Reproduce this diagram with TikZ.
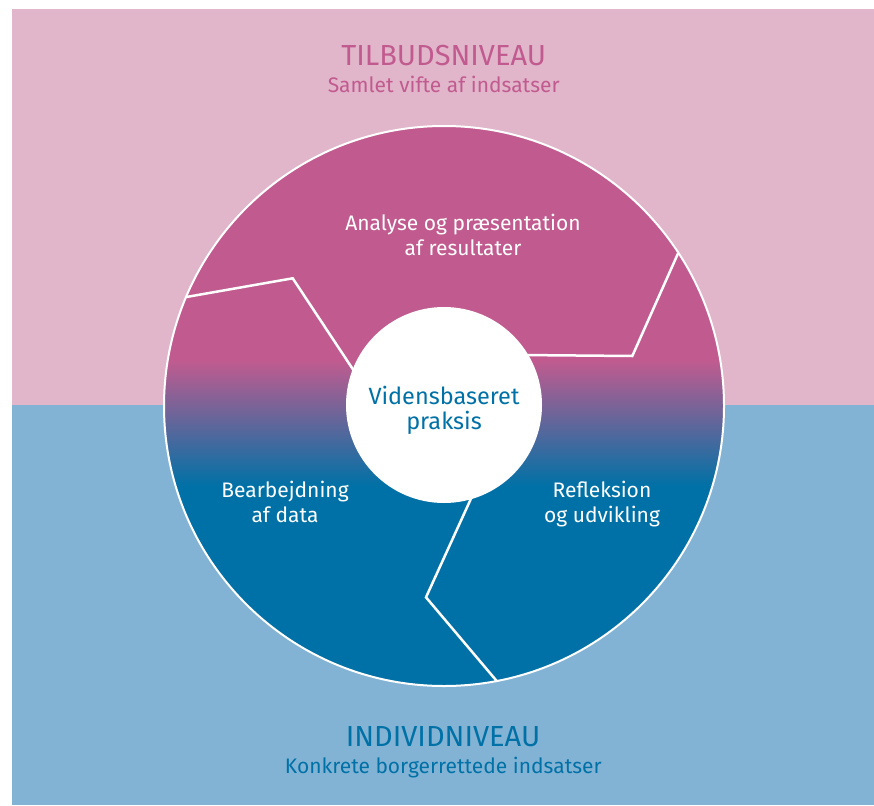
\documentclass[tikz,border=0pt]{standalone}
\usepackage{fontspec}
\setmainfont{Fira Sans}
\usetikzlibrary{calc}

\definecolor{levelpink}{HTML}{E1B5CA}
\definecolor{levelblue}{HTML}{82B3D5}
\definecolor{cyclepink}{HTML}{C15B8F}
\definecolor{cycleblue}{HTML}{0071A6}

\tikzset{
  divider/.style={draw=white, line width=2.5pt, line join=miter},
  steplabel/.style={text=white, align=center, inner sep=0pt,
    font=\fontsize{21}{25}\selectfont},
  corelabel/.style={text=cycleblue, align=center, inner sep=0pt,
    font=\fontsize{23.5}{25}\selectfont},
  leveltitle/.style={anchor=base, inner sep=0pt, font=\fontsize{29}{34}\selectfont},
  levelsub/.style={anchor=base, inner sep=0pt, font=\fontsize{21}{25}\selectfont}
}

\begin{document}
\begin{tikzpicture}[x=1pt, y=-1pt]
    \useasboundingbox (0,0) rectangle (874,805);

    % the two levels
    \fill[levelpink] (12,9) rectangle (874,405);
    \fill[levelblue] (12,405) rectangle (874,805);

    \coordinate (hub) at (444,406);

    \coordinate (d1out) at (175,299);
    \coordinate (d1mid) at (292.7,278.3);
    \coordinate (d1in) at (356,374);
    \coordinate (d2out) at (684,240);
    \coordinate (d2mid) at (632.3,356);
    \coordinate (d2in) at (520,355);
    \coordinate (d3out) at (506,692);
    \coordinate (d3mid) at (426,597.3);
    \coordinate (d3in) at (474,492);

    % the ring, pink at the top and blue at the bottom
    \begin{scope}
      \clip (hub) circle (280pt);
      \fill[cyclepink] (160,120) rectangle (730,360);
      \shade[top color=cyclepink, bottom color=cycleblue] (160,360) rectangle (730,486);
      \fill[cycleblue] (160,486) rectangle (730,690);

      \draw[divider] (d1out) -- (d1mid) -- (d1in);
      \draw[divider] (d2out) -- (d2mid) -- (d2in);
      \draw[divider] (d3out) -- (d3mid) -- (d3in);
    \end{scope}

    \draw[white, line width=2pt] (hub) circle (280pt);
    \fill[white] (444,405) circle (98pt);

    \node[steplabel] (analyse) at (463,235) {Analyse og præsentation\\af resultater};
    \node[steplabel] (bearbejd) at (285,502) {Bearbejdning\\af data};
    \node[steplabel] (refleks) at (602,504) {Refleksion\\og udvikling};
    \node[corelabel] (viden) at (444,410) {Vidensbaseret\\praksis};

    \node[leveltitle, text=cyclepink] (tilbud) at (443.7,66) {TILBUDSNIVEAU};
    \node[levelsub, text=cyclepink] (tilbudsub) at (443.7,92.7) {Samlet vifte af indsatser};
    \node[leveltitle, text=cycleblue] (individ) at (443,746.7) {INDIVIDNIVEAU};
    \node[levelsub, text=cycleblue] (individsub) at (443.3,773) {Konkrete borgerrettede indsatser};
\end{tikzpicture}
\end{document}
